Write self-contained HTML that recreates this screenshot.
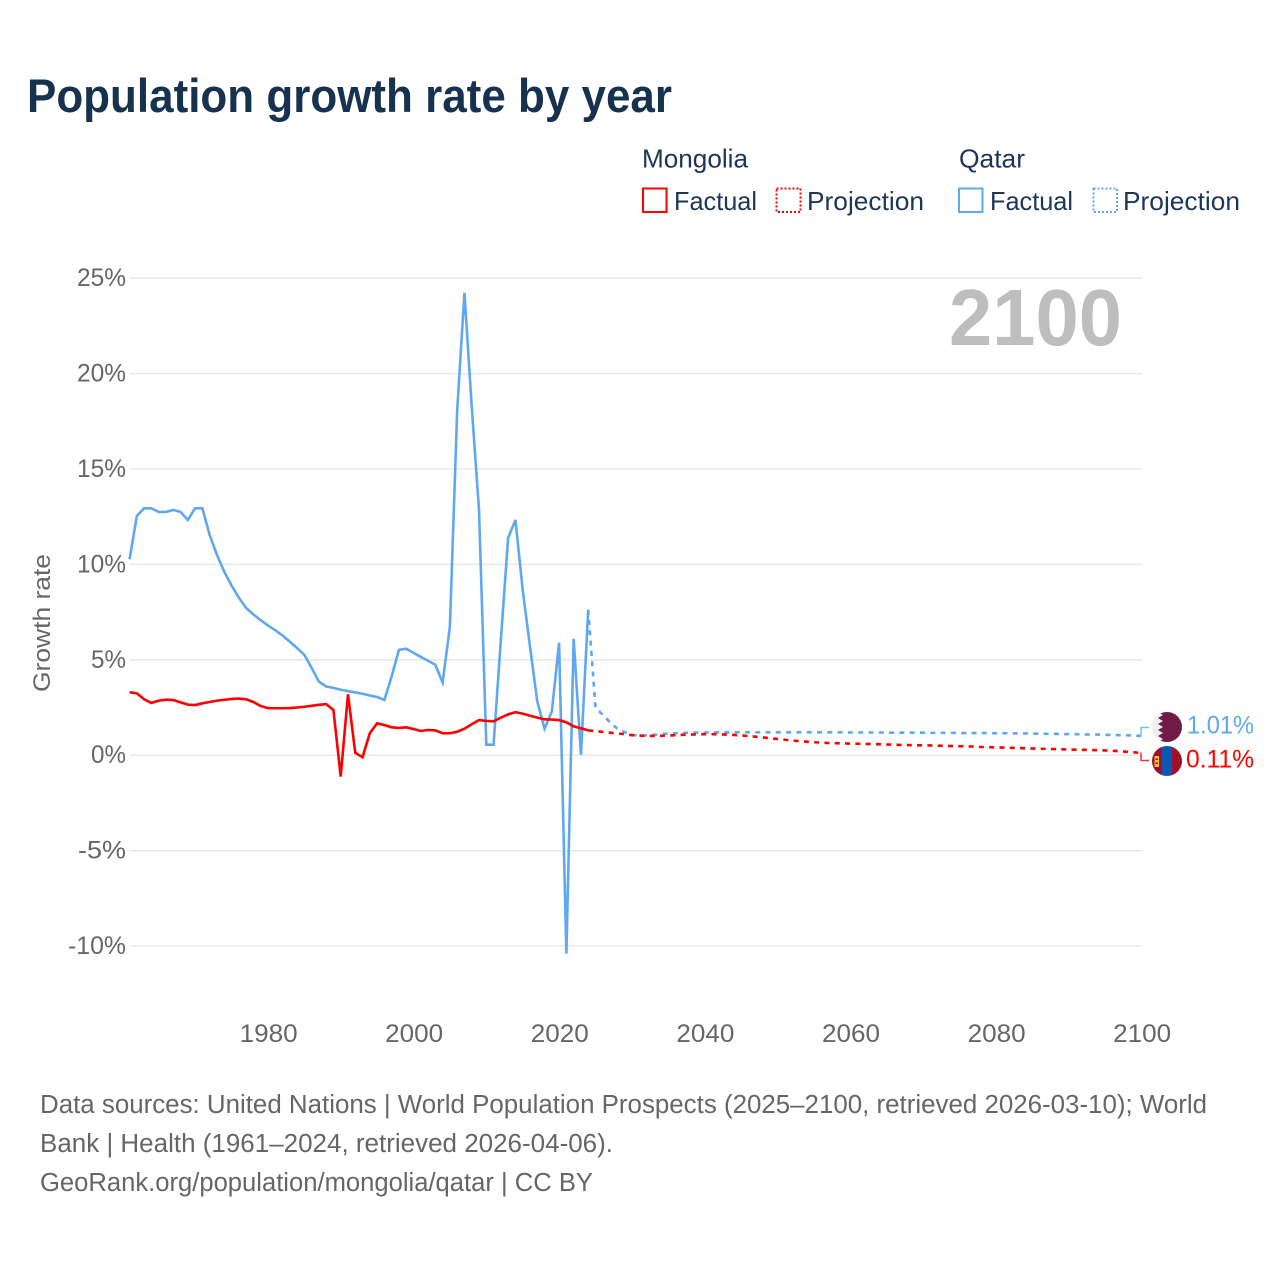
<!DOCTYPE html>
<html lang="en">
<head>
<meta charset="utf-8">
<title>Population growth rate by year</title>
<style>
html,body{margin:0;padding:0;background:#fff;}
svg{display:block;font-family:"Liberation Sans",sans-serif;}
</style>
</head>
<body>
<svg id="chart" xmlns="http://www.w3.org/2000/svg" width="1280" height="1280" viewBox="0 0 1280 1280">
  <defs>
    <clipPath id="flag-clip-qa"><circle cx="1167" cy="727" r="15"/></clipPath>
    <clipPath id="flag-clip-mn"><circle cx="1167" cy="761" r="15"/></clipPath>
  </defs>
  <rect x="0" y="0" width="1280" height="1280" fill="#ffffff"/>
  <text x="27" y="112" font-size="47" font-weight="700" fill="#17324f" textLength="645" lengthAdjust="spacingAndGlyphs">Population growth rate by year</text>

  <g font-size="26" fill="#1d3557">
    <text x="642" y="167.500" textLength="106" lengthAdjust="spacingAndGlyphs">Mongolia</text>
    <rect x="643" y="188.500" width="23.500" height="23.500" fill="none" stroke="#ff0000" stroke-width="2"/>
    <text x="674" y="210" textLength="83" lengthAdjust="spacingAndGlyphs">Factual</text>
    <rect x="776.500" y="188.500" width="24" height="23.500" fill="none" stroke="#ff0000" stroke-width="2" stroke-dasharray="2 2"/>
    <text x="807" y="210" textLength="117" lengthAdjust="spacingAndGlyphs">Projection</text>
    <text x="959" y="167.500" textLength="66" lengthAdjust="spacingAndGlyphs">Qatar</text>
    <rect x="959" y="188.500" width="23.500" height="23.500" fill="none" stroke="#5fa8ef" stroke-width="2"/>
    <text x="990" y="210" textLength="83" lengthAdjust="spacingAndGlyphs">Factual</text>
    <rect x="1093.500" y="188.500" width="23.500" height="23.500" fill="none" stroke="#5fa8ef" stroke-width="2" stroke-dasharray="2 2"/>
    <text x="1123" y="210" textLength="117" lengthAdjust="spacingAndGlyphs">Projection</text>
  </g>

  <g id="grid"></g>
  <g id="yticks" font-size="25" fill="#666666" text-anchor="end"></g>
  <g id="xticks" font-size="25" fill="#666666" text-anchor="middle"></g>
  <text transform="translate(50,692) rotate(-90)" font-size="24" fill="#666666" textLength="138" lengthAdjust="spacingAndGlyphs">Growth rate</text>
  <text x="949" y="345" font-size="80" font-weight="700" fill="#bebebe" textLength="173" lengthAdjust="spacingAndGlyphs">2100</text>

  <g id="series"></g>

  <path d="M1141 735V727.500H1149" fill="none" stroke="#5fa8ef" stroke-width="1.500" opacity="0.8"/>
  <path d="M1141 752.500V760.500H1149" fill="none" stroke="#ff0000" stroke-width="1.500" opacity="0.8"/>

  <g clip-path="url(#flag-clip-qa)">
    <rect x="1152" y="712" width="30" height="30" fill="#eeeeee"/>
    <polygon fill="#6f1b46" points="1182,712 1158,712 1163,715 1158,718 1163,721 1158,724 1163,727 1158,730 1163,733 1158,736 1163,739 1158,742 1182,742"/>
  </g>
  <g clip-path="url(#flag-clip-mn)">
    <rect x="1152" y="746" width="10" height="30" fill="#9f0f2a"/>
    <rect x="1161.500" y="746" width="11" height="30" fill="#0b57b5"/>
    <rect x="1172" y="746" width="10" height="30" fill="#9f0f2a"/>
    <rect x="1154.500" y="756" width="4.500" height="11" fill="#eec13c"/>
    <rect x="1155.500" y="758.500" width="2.500" height="1.500" fill="#9f0f2a"/>
    <rect x="1155.500" y="762.500" width="2.500" height="1.500" fill="#9f0f2a"/>
  </g>
  <text x="1187" y="733.500" font-size="25" fill="#5fa8ef" textLength="67" lengthAdjust="spacingAndGlyphs">1.01%</text>
  <text x="1186" y="767.500" font-size="25" fill="#ff0000" textLength="68" lengthAdjust="spacingAndGlyphs">0.11%</text>

  <g font-size="25.500" fill="#666666">
    <text x="40" y="1113" textLength="1167" lengthAdjust="spacingAndGlyphs">Data sources: United Nations | World Population Prospects (2025–2100, retrieved 2026-03-10); World</text>
    <text x="40" y="1152" textLength="573" lengthAdjust="spacingAndGlyphs">Bank | Health (1961–2024, retrieved 2026-04-06).</text>
    <a><text x="40" y="1191" textLength="553" lengthAdjust="spacingAndGlyphs">GeoRank.org/population/mongolia/qatar | CC BY</text></a>
  </g>
</svg>
<script>
const factualStartYear = 1961;
const projectionStartYear = 2024;
const yTickValues = [25, 20, 15, 10, 5, 0, -5, -10];
const yTickLabels = ["25%", "20%", "15%", "10%", "5%", "0%", "-5%", "-10%"];
const yTickLabelWidths = [49, 49, 49, 49, 35, 35, 48, 58];
const xTickValues = [1980, 2000, 2020, 2040, 2060, 2080, 2100];
const xTickLabels = ["1980", "2000", "2020", "2040", "2060", "2080", "2100"];

const qatarFactual = [
  10.27, 12.54, 12.94, 12.94, 12.75, 12.75, 12.85, 12.75, 12.33, 12.94,
  12.94, 11.54, 10.50, 9.62, 8.90, 8.26, 7.72, 7.38, 7.08, 6.80,
  6.55, 6.28, 5.95, 5.62, 5.26, 4.58, 3.86, 3.60, 3.53, 3.43,
  3.36, 3.29, 3.22, 3.13, 3.05, 2.90, 4.13, 5.52, 5.58, 5.36,
  5.15, 4.95, 4.74, 3.81, 6.74, 18.09, 24.23, 18.26, 12.85, 0.55,
  0.55, 6.05, 11.39, 12.33, 8.66, 5.70, 2.82, 1.39, 2.29, 5.89,
  -10.40, 6.10, 0.03, 7.62
];
const mongoliaFactual = [
  3.30, 3.24, 2.93, 2.74, 2.86, 2.91, 2.89, 2.77, 2.65, 2.63,
  2.72, 2.79, 2.86, 2.90, 2.95, 2.97, 2.93, 2.79, 2.58, 2.47,
  2.46, 2.46, 2.47, 2.50, 2.54, 2.59, 2.64, 2.68, 2.37, -1.12,
  3.19, 0.13, -0.11, 1.15, 1.67, 1.58, 1.46, 1.43, 1.46, 1.37,
  1.27, 1.32, 1.30, 1.15, 1.15, 1.23, 1.39, 1.62, 1.84, 1.80,
  1.77, 1.97, 2.14, 2.25, 2.18, 2.07, 1.97, 1.88, 1.87, 1.84,
  1.72, 1.51, 1.41, 1.30
];
const qatarProjection = [
  7.62, 2.48, 2.12, 1.72, 1.39, 1.21, 1.07, 1.02, 1.04, 1.07,
  1.10, 1.13, 1.15, 1.17, 1.18, 1.19, 1.19, 1.19, 1.20, 1.20,
  1.20, 1.20, 1.20, 1.20, 1.20, 1.20, 1.20, 1.20, 1.20, 1.20,
  1.20, 1.20, 1.20, 1.20, 1.20, 1.20, 1.19, 1.19, 1.19, 1.19,
  1.19, 1.18, 1.18, 1.18, 1.18, 1.18, 1.18, 1.17, 1.17, 1.17,
  1.17, 1.16, 1.16, 1.16, 1.16, 1.16, 1.15, 1.15, 1.15, 1.14,
  1.14, 1.13, 1.13, 1.12, 1.12, 1.11, 1.11, 1.10, 1.09, 1.09,
  1.08, 1.07, 1.06, 1.05, 1.04, 1.03, 1.01
];
const mongoliaProjection = [
  1.30, 1.27, 1.22, 1.18, 1.14, 1.10, 1.05, 1.03, 1.01, 1.01,
  1.02, 1.03, 1.05, 1.07, 1.08, 1.09, 1.10, 1.10, 1.09, 1.08,
  1.06, 1.04, 1.00, 0.97, 0.93, 0.89, 0.85, 0.81, 0.77, 0.74,
  0.71, 0.68, 0.66, 0.64, 0.63, 0.62, 0.61, 0.60, 0.59, 0.58,
  0.57, 0.56, 0.55, 0.54, 0.53, 0.52, 0.52, 0.51, 0.50, 0.49,
  0.48, 0.47, 0.46, 0.45, 0.43, 0.42, 0.41, 0.40, 0.39, 0.38,
  0.36, 0.35, 0.34, 0.33, 0.32, 0.31, 0.30, 0.29, 0.28, 0.27,
  0.26, 0.25, 0.23, 0.21, 0.18, 0.15, 0.11
];

const SVG_NS = 'http://www.w3.org/2000/svg';
function xScale(year) { return 1141.5 - (2100 - year) * 7.28; }
function yScale(value) { return 755.2 - value * 19.08; }

function linePath(values, startYear) {
  return values.map(function (v, i) {
    return (i ? 'L' : 'M') + xScale(startYear + i).toFixed(2) + ' ' + yScale(v).toFixed(2);
  }).join('');
}

const gridGroup = document.getElementById('grid');
const yTickGroup = document.getElementById('yticks');
const xTickGroup = document.getElementById('xticks');
const seriesGroup = document.getElementById('series');

yTickValues.forEach(function (value, i) {
  const line = document.createElementNS(SVG_NS, 'line');
  
  
  line.setAttribute('x1', 130);
  line.setAttribute('x2', 1142);
  line.setAttribute('y1', yScale(value));
  line.setAttribute('y2', yScale(value));
  line.setAttribute('stroke', '#e6e6e6');
  line.setAttribute('stroke-width', '1.3');
  gridGroup.appendChild(line);

  const label = document.createElementNS(SVG_NS, 'text');
  
  
  label.setAttribute('x', 126);
  label.setAttribute('y', yScale(value) + 8);
  label.setAttribute('textLength', yTickLabelWidths[i]);
  label.setAttribute('lengthAdjust', 'spacingAndGlyphs');
  label.textContent = yTickLabels[i];
  yTickGroup.appendChild(label);
});

xTickValues.forEach(function (value, i) {
  const label = document.createElementNS(SVG_NS, 'text');
  
  
  label.setAttribute('x', xScale(value) + 0.7);
  label.setAttribute('y', 1042);
  label.setAttribute('textLength', 58);
  label.setAttribute('lengthAdjust', 'spacingAndGlyphs');
  label.textContent = xTickLabels[i];
  xTickGroup.appendChild(label);
});

function addSeries(values, startYear, color, dashed, name) {
  const path = document.createElementNS(SVG_NS, 'path');
  
  
  path.setAttribute('d', linePath(values, startYear));
  path.setAttribute('fill', 'none');
  path.setAttribute('stroke', color);
  path.setAttribute('stroke-width', '2.6');
  path.setAttribute('stroke-linejoin', 'miter');
  if (dashed) {
    path.setAttribute('stroke-dasharray', '5 5.3');
  }
  seriesGroup.appendChild(path);
}

addSeries(qatarProjection, projectionStartYear, '#5fa8ef', true, 'line-qatar-projection');
addSeries(mongoliaProjection, projectionStartYear, '#ff0000', true, 'line-mongolia-projection');
addSeries(qatarFactual, factualStartYear, '#5fa8ef', false, 'line-qatar-factual');
addSeries(mongoliaFactual, factualStartYear, '#ff0000', false, 'line-mongolia-factual');
</script>
</body>
</html>
